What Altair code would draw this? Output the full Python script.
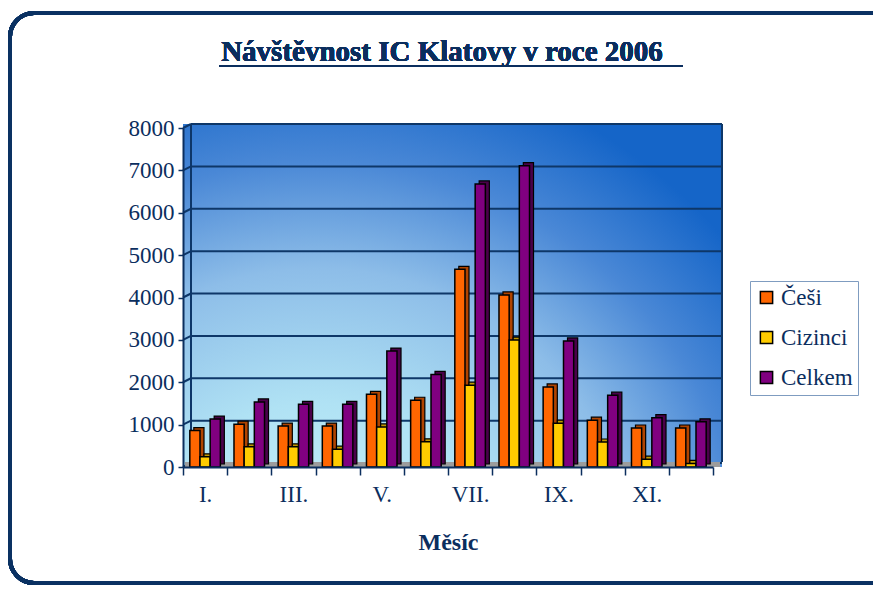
import altair as alt
import pandas as pd

months = ["I.", "II.", "III.", "IV.", "V.", "VI.", "VII.", "VIII.", "IX.", "X.", "XI.", "XII."]
cesi = [860, 1010, 965, 965, 1715, 1575, 4665, 4060, 1890, 1105, 920, 920]
cizinci = [240, 475, 475, 420, 945, 595, 1930, 2995, 1035, 590, 185, 85]
celkem = [1130, 1535, 1480, 1480, 2735, 2185, 6680, 7110, 2975, 1695, 1165, 1065]
series = ["Češi", "Cizinci", "Celkem"]
colors = ["#ff6600", "#ffcc00", "#800080"]
dark_colors = ["#b04400", "#c09800", "#4a004a"]
y_ticks = [0, 1000, 2000, 3000, 4000, 5000, 6000, 7000, 8000]
shown_labels = ["I.", "III.", "V.", "VII.", "IX.", "XI."]
title_text = "Návštěvnost IC Klatovy v roce 2006"

NAVY = "#0b2e5e"
GRID = "#0e3768"
FONT = "Liberation Serif"
W, H = 530, 339
STEP = W / len(months)

rows = []
for i, m in enumerate(months):
    for s, vals in zip(series, [cesi, cizinci, celkem]):
        rows.append({"month": m, "series": s, "value": vals[i]})
df = pd.DataFrame(rows)
grid_df = pd.DataFrame({"v": y_ticks})

yscale = alt.Scale(domain=[0, 8000], nice=False, zero=True)
xscale = alt.Scale(domain=months, paddingInner=0, paddingOuter=0)
xoff_scale = alt.Scale(domain=series, paddingOuter=0.67, paddingInner=0)
xoff_shadow = alt.Scale(domain=series, paddingOuter=0.67, paddingInner=0, range=[4, STEP + 4])

y_axis = alt.Axis(title=None, values=y_ticks, format="d", tickSize=5, labelPadding=4, grid=False, zindex=1)
x_axis = alt.Axis(
    title="Měsíc", labelAngle=0, tickBand="extent", tickSize=8,
    labelExpr="indexof(" + str(shown_labels) + ", datum.value) >= 0 ? datum.value : ''",
    labelPadding=8, titlePadding=24, zindex=1,
)

gradient = {
    "gradient": "radial",
    "x1": 0.25, "y1": 1.05, "r1": 0,
    "x2": 0.25, "y2": 1.05, "r2": 1.0,
    "stops": [
        {"offset": 0, "color": "#cdf8fc"},
        {"offset": 0.35, "color": "#b0e2f4"},
        {"offset": 0.6, "color": "#8dbde8"},
        {"offset": 0.8, "color": "#4a88d6"},
        {"offset": 1, "color": "#1565c8"},
    ],
}

border = alt.Chart(grid_df).mark_rect(
    filled=False, stroke="#0a3162", strokeWidth=4, cornerRadius=24
).encode(
    x=alt.value(10 - 183), x2=alt.value(895 - 183),
    y=alt.value(13 - 128), y2=alt.value(583 - 128),
)

bg = alt.Chart(grid_df).mark_rect(color=gradient).encode(
    x=alt.value(0), x2=alt.value(W + 9), y=alt.value(-4), y2=alt.value(H)
)

wall_lines = alt.Chart(grid_df).mark_rule(color=GRID, strokeWidth=2, y2Offset=-4).encode(
    y=alt.Y("v:Q", scale=yscale, axis=y_axis), y2="v:Q",
    x=alt.value(0), x2=alt.value(8),
)

grid_lines = alt.Chart(grid_df).mark_rule(color=GRID, strokeWidth=2, yOffset=-4).encode(
    y=alt.Y("v:Q", scale=yscale, axis=y_axis),
    x=alt.value(8), x2=alt.value(W + 9),
)

edges = alt.Chart(grid_df).mark_rule(color=GRID, strokeWidth=2).encode(
    x=alt.value(W + 9), y=alt.value(-4), y2=alt.value(H - 5)
)
edges_left = alt.Chart(grid_df).mark_rule(color=GRID, strokeWidth=1.5).encode(
    x=alt.value(8), y=alt.value(-4), y2=alt.value(H - 5)
)

floor = alt.Chart(grid_df).mark_rect(color="#9c9c9c").encode(
    x=alt.value(2), x2=alt.value(W + 7), y=alt.value(H - 5), y2=alt.value(H)
)

shadow = alt.Chart(df).mark_bar(stroke="black", strokeWidth=1.2, yOffset=-3).encode(
    x=alt.X("month:N", sort=months, scale=xscale, axis=x_axis),
    xOffset=alt.XOffset("series:N", sort=series, scale=xoff_shadow),
    y=alt.Y("value:Q", scale=yscale, axis=y_axis),
    fill=alt.Fill("series:N", scale=alt.Scale(domain=series, range=dark_colors), legend=None),
)

bars = alt.Chart(df).mark_bar(stroke="black", strokeWidth=1.5).encode(
    x=alt.X("month:N", sort=months, scale=xscale, axis=x_axis),
    xOffset=alt.XOffset("series:N", sort=series, scale=xoff_scale),
    y=alt.Y("value:Q", scale=yscale, axis=y_axis),
    color=alt.Color(
        "series:N", sort=series, scale=alt.Scale(domain=series, range=colors),
        legend=alt.Legend(
            title=None, orient="none", legendX=567, legendY=153,
            symbolType="square", symbolSize=150, symbolStrokeColor="black", symbolStrokeWidth=1.5,
            labelFontSize=23, labelFont=FONT, labelColor=NAVY, rowPadding=16, labelOffset=3,
            padding=5, strokeColor="#7f9cc0", fillColor="white",
        ),
    ),
)

title = alt.Chart(grid_df).mark_text(
    text=title_text, font=FONT, fontSize=29, fontWeight="bold", color=NAVY,
    align="center", baseline="alphabetic",
).encode(x=alt.value(442 - 183), y=alt.value(61 - 128))

underline = alt.Chart(grid_df).mark_rule(color=NAVY, strokeWidth=2).encode(
    x=alt.value(219 - 183), x2=alt.value(683 - 183), y=alt.value(66 - 128)
)

chart = alt.layer(
    border, bg, wall_lines, grid_lines, edges, edges_left, floor, shadow, bars, title, underline
).resolve_scale(fill="independent", xOffset="independent").properties(
    width=W, height=H,
    background="white",
    autosize=alt.AutoSizeParams(type="none"),
    padding={"left": 175, "top": 120, "right": 160, "bottom": 119},
).configure_view(stroke=None).configure_axis(
    domainColor=NAVY, domainWidth=2, tickColor=NAVY, tickWidth=1.5,
    labelFont=FONT, labelFontSize=23, labelColor=NAVY,
    titleFont=FONT, titleFontSize=24, titleColor=NAVY, titleFontWeight="bold",
).configure_legend(
    labelFont=FONT, labelFontSize=23, labelColor=NAVY,
)

chart.save("out.html", embed_options={"renderer": "svg", "actions": False})
